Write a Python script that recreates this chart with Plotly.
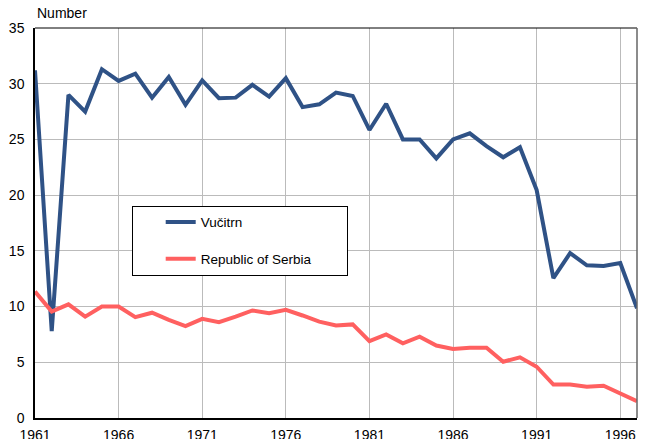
import plotly.graph_objects as go

years = list(range(1961, 1998))
vucitrn = [31.2, 7.8, 29.0, 27.5, 31.3, 30.25, 30.9, 28.75, 30.6, 28.1,
           30.3, 28.7, 28.75, 29.9, 28.85, 30.5, 27.9, 28.15, 29.2, 28.9,
           25.85, 28.2, 25.0, 25.0, 23.3, 25.0, 25.55, 24.4, 23.4, 24.3,
           20.45, 12.55, 14.8, 13.7, 13.65, 13.9, 9.85]
serbia = [11.35, 9.55, 10.2, 9.1, 10.0, 10.0, 9.05, 9.45, 8.8, 8.25,
          8.9, 8.6, 9.1, 9.65, 9.4, 9.7, 9.2, 8.65, 8.3, 8.4,
          6.9, 7.5, 6.7, 7.3, 6.5, 6.2, 6.3, 6.3, 5.05, 5.45,
          4.6, 3.0, 3.0, 2.8, 2.9, 2.2, 1.5]
x_ticks = [1961, 1966, 1971, 1976, 1981, 1986, 1991, 1996]
y_ticks = [0, 5, 10, 15, 20, 25, 30, 35]

font = "Liberation Sans, Arial, sans-serif"
pad = "\u00a0" * 8  # right padding inside the legend box

fig = go.Figure()
fig.add_trace(go.Scatter(x=years, y=vucitrn, mode="lines", name="Vučitrn",
                         legendgroup="a",
                         line=dict(color="#2F5286", width=4)))
fig.add_trace(go.Scatter(x=years, y=serbia, mode="lines", name="Republic of Serbia" + pad,
                         legendgroup="b",
                         line=dict(color="#FF6060", width=4)))

fig.update_layout(
    width=639, height=431,
    margin=dict(l=27, r=10, t=20, b=21),
    paper_bgcolor="white", plot_bgcolor="white",
    font=dict(family=font, size=14, color="black"),
    showlegend=True,
    legend=dict(x=0.161, y=0.544, xanchor="left", yanchor="top",
                bgcolor="white", bordercolor="black", borderwidth=1,
                font=dict(size=13.5), tracegroupgap=16, traceorder="grouped",
                title=dict(text="\u00a0\u00a0\u00a0\u00a0", side="left")),
    xaxis=dict(range=[1961, 1997], tickvals=x_ticks, ticktext=[str(v) for v in x_ticks],
               showgrid=True, gridcolor="#BBBBBB", gridwidth=1,
               showline=True, linecolor="black", linewidth=1.5, mirror=False,
               ticks="", zeroline=False, tickfont=dict(size=14), automargin=False,
               ticklabelstandoff=3),
    yaxis=dict(range=[0, 35], tickvals=y_ticks,
               showgrid=True, gridcolor="#BBBBBB", gridwidth=1,
               showline=True, linecolor="black", linewidth=1.5,
               ticks="", zeroline=False, tickfont=dict(size=14), automargin=False,
               ticklabelstandoff=6),
    shapes=[
        dict(type="line", xref="paper", yref="paper", x0=0, x1=1, y0=1, y1=1,
             line=dict(color="black", width=1)),
        dict(type="line", xref="paper", yref="paper", x0=1, x1=1, y0=0, y1=1,
             line=dict(color="#666666", width=1.5)),
    ],
    annotations=[
        dict(text="Number", xref="paper", yref="paper", x=0, y=1, xanchor="left",
             yanchor="bottom", yshift=5, showarrow=False, font=dict(size=14)),
    ],
)

fig.write_html("out.html")
